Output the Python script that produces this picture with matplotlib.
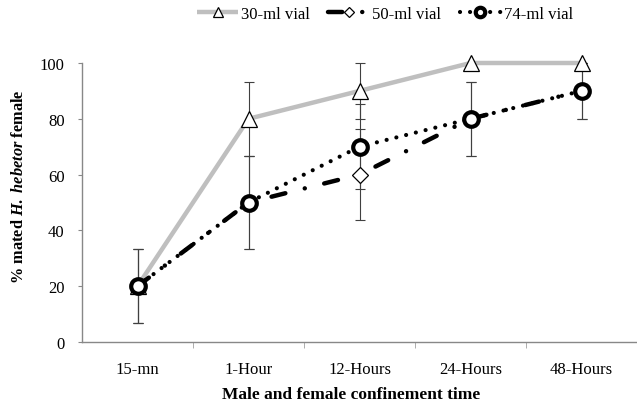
import matplotlib
matplotlib.use("Agg")
import matplotlib.pyplot as plt
import numpy as np

plt.rcParams['font.family'] = ['Liberation Serif', 'DejaVu Serif']
plt.rcParams['mathtext.fontset'] = 'custom'
plt.rcParams['mathtext.it'] = 'Liberation Serif:italic:bold'
plt.rcParams['mathtext.rm'] = 'Liberation Serif:bold'
plt.rcParams['mathtext.bf'] = 'Liberation Serif:bold'

categories = ["15-mn", "1-Hour", "12-Hours", "24-Hours", "48-Hours"]
vial30 = [20, 80, 90, 100, 100]
vial30_err = [13.3, 13.3, 10, 0, 0]
vial50 = [20, 50, 60, 80, 90]
vial50_err = [13.3, 16.7, 16.3, 13.3, 10]
vial74 = [20, 50, 70, 80, 90]
vial74_err = [13.3, 16.7, 15.3, 13.3, 10]
yticks = [0, 20, 40, 60, 80, 100]

fig = plt.figure(figsize=(6.37, 4.06), dpi=100)
ax = fig.add_axes([82/637, 1-343/406, 555/637, 279/406])
x = np.arange(len(categories))

ecol = '#404040'
for vals, errs in [(vial30, vial30_err), (vial50, vial50_err), (vial74, vial74_err)]:
    ax.errorbar(x, vals, yerr=errs, fmt='none', ecolor=ecol, elinewidth=0.8,
                capsize=3.5, capthick=0.8, zorder=2, clip_on=False)

l30, = ax.plot(x, vial30, color='#bfbfbf', lw=3.2, solid_capstyle='butt',
               marker='^', ms=11, mfc='white', mec='black', mew=0.9,
               zorder=3, clip_on=False, label='30-ml vial')
l50, = ax.plot(x, vial50, color='black', lw=3.2,
               linestyle=(0, (3.2, 4.5, 0.01, 4.5)), dash_capstyle='round',
               marker='D', ms=8, mfc='white', mec='black', mew=0.9,
               zorder=4, clip_on=False, label='50-ml vial')
l74, = ax.plot(x, vial74, color='black', lw=3.0,
               linestyle=(0, (0.01, 2.4)), dash_capstyle='round',
               marker='o', ms=10.5, mfc='white', mec='black', mew=3.0,
               zorder=5, clip_on=False, label='74-ml vial')

ax.set_xlim(-0.5, 4.5)
ax.set_ylim(0, 100)
ax.set_yticks(yticks)
ax.set_xticks(x)
ax.set_xticklabels(categories, fontsize=12)
ax.set_xticks(np.arange(0.5, 4.5, 1.0), minor=True)
ax.tick_params(axis='x', which='major', length=0, pad=14)
ax.tick_params(axis='x', which='minor', length=4, color='#a0a0a0', direction='out')
ax.tick_params(axis='y', which='major', length=3, color='#888888', labelsize=12, pad=9.5)

for s in ['top', 'right']:
    ax.spines[s].set_visible(False)
for s in ['left', 'bottom']:
    ax.spines[s].set_color('#888888')
    ax.spines[s].set_linewidth(1.0)

fig.text(351/637, 1-395/406, 'Male and female confinement time', ha='center', va='center',
         fontsize=12.5, fontweight='bold')
fig.text(19/637, 1-187/406, r'% mated $H.\ hebetor$ female', rotation=90,
         ha='center', va='center', fontsize=11.8, fontweight='bold')

leg = fig.legend(handles=[l30, l50, l74], loc='center left', bbox_to_anchor=(185/637, 1-15/406),
                 ncol=3, frameon=False, fontsize=12, handlelength=2.5,
                 columnspacing=1.1, handletextpad=0.15, markerscale=0.65,
                 borderpad=0.2)

fig.savefig('out.png', dpi=100)
